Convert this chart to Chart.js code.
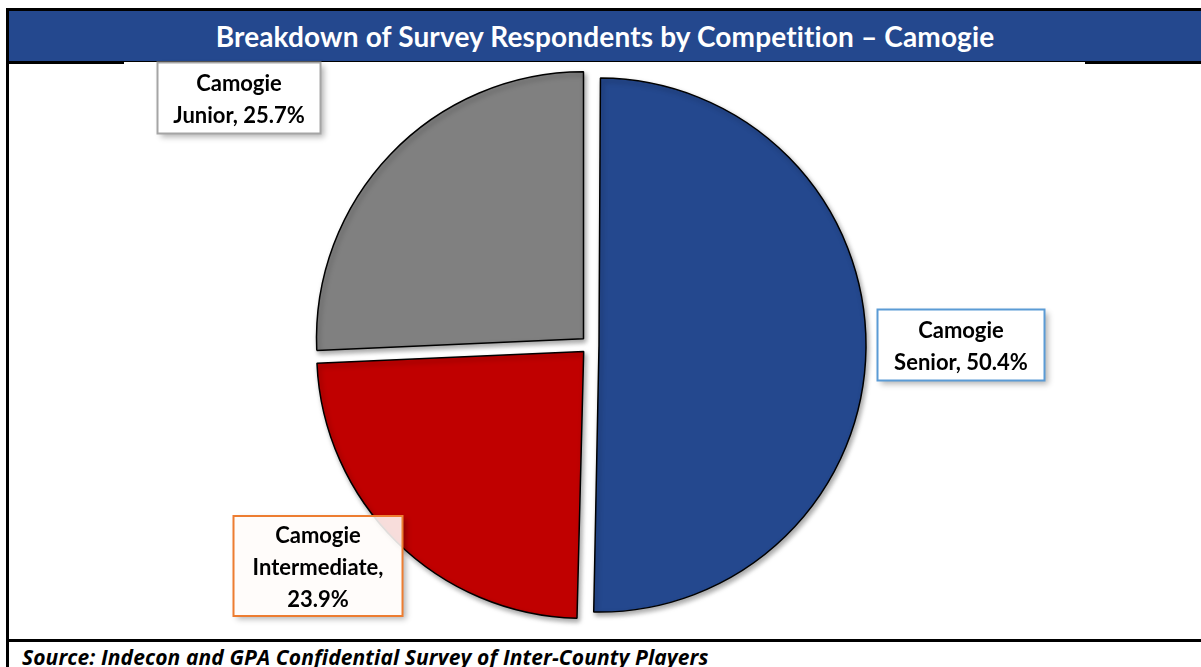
<!DOCTYPE html>
<html>
<head>
<meta charset="utf-8">
<script src="https://cdn.jsdelivr.net/npm/chart.js@4/dist/chart.umd.min.js"></script>
<style>
    html, body { margin: 0; padding: 0; background: #fff; }
    #page { position: relative; width: 1201px; height: 667px; overflow: hidden; font-family: Lato, "Open Sans", sans-serif; }
    #frame { position: absolute; left: 6px; top: 8px; width: 1210px; height: 700px; border-left: 3px solid #000; border-top: 3px solid #000; }
    #titleBar { position: absolute; left: 9px; top: 11px; width: 1200px; height: 50px; background: #24488e; color: #fff;
        font-weight: bold; font-size: 28px; letter-spacing: 0.15px; line-height: 50px; text-align: center; }
    #titleBar span { position: relative; left: -4px; }
    #titleRule { position: absolute; left: 9px; top: 61px; width: 1200px; height: 1px; background: #000; }
    .ruleBit { position: absolute; top: 61px; height: 3px; background: #000; }
    #bottomRule { position: absolute; left: 9px; top: 639px; width: 1200px; height: 3px; background: #000; }
    #source { position: absolute; left: 22px; top: 643px; font-family: "Open Sans", Lato, sans-serif; font-size: 21px; letter-spacing: 0.1px; font-weight: bold; font-style: italic; color: #000; }
    #chartBox { position: absolute; left: 0; top: 0; width: 1201px; height: 667px; }
</style>
</head>
<body>
<div id="page">
    <div id="frame"></div>
    <div id="titleBar"><span>Breakdown of Survey Respondents by Competition – Camogie</span></div>
    <div id="titleRule"></div>
    <div class="ruleBit" style="left:9px;width:115px"></div>
    <div class="ruleBit" style="left:1085px;width:120px"></div>
    <div id="bottomRule"></div>
    <div id="source">Source: Indecon and GPA Confidential Survey of Inter-County Players</div>
    <div id="chartBox"><canvas id="competitionChart"></canvas></div>
</div>
<script>
var categories = ['Camogie Senior', 'Camogie Intermediate', 'Camogie Junior'];
var shares = [50.4, 23.9, 25.7];
var sliceColours = ['#24488e', '#c00000', '#808080'];

var explode = 36;   // Chart.js moves each arc by offset / 4

// callout boxes, placed relative to the pie centre
var callouts = [
    { dx: 371, dy: 0, w: 167, h: 71, border: '#5b9bd5', fill: '#ffffff' },
    { dx: -272, dy: 221, w: 169, h: 100, border: '#ed7d31', fill: 'rgba(255,252,249,0.88)' },
    { dx: -351, dy: -247, w: 163, h: 71, border: '#a5a5a5', fill: '#ffffff' }
];

function wrapText(ctx, text, maxWidth) {
    var words = text.split(' ');
    var lines = [];
    var line = '';
    words.forEach(function (word) {
        var test = line ? line + ' ' + word : word;
        if (line && ctx.measureText(test).width > maxWidth) {
            lines.push(line);
            line = word;
        } else {
            line = test;
        }
    });
    if (line) lines.push(line);
    return lines;
}

// the arc element grows slices wider than 180deg by their offset; keep all radii equal
var equalRadius = {
    id: 'equalRadius',
    afterDatasetUpdate: function (chart) {
        chart.getDatasetMeta(0).data.forEach(function (arc) {
            var fix = 1 - Math.sin(Math.min(Math.PI, arc.circumference));
            arc.outerRadius -= (explode / 4) * fix;
        });
    }
};

var sliceShadow = {
    id: 'sliceShadow',
    beforeDatasetsDraw: function (chart) {
        var ctx = chart.ctx;
        ctx.save();
        ctx.shadowColor = 'rgba(0,0,0,0.35)';
        ctx.shadowBlur = 5;
        ctx.shadowOffsetX = 2;
        ctx.shadowOffsetY = 3;
    },
    afterDatasetsDraw: function (chart) {
        chart.ctx.restore();
    }
};

var calloutLabels = {
    id: 'calloutLabels',
    afterDraw: function (chart) {
        var ctx = chart.ctx;
        var arcs = chart.getDatasetMeta(0).data;
        var cx = arcs[0].x;
        var cy = arcs[0].y;
        ctx.save();
        ctx.font = 'bold 22px Lato, "Open Sans", sans-serif';
        arcs.forEach(function (arc, i) {
            var c = callouts[i];
            var x = cx + c.dx - c.w / 2;
            var y = cy + c.dy - c.h / 2;

            // drop shadow only outside the box so the fill stays clean
            ctx.save();
            ctx.beginPath();
            ctx.rect(0, 0, chart.width, chart.height);
            ctx.rect(x, y, c.w, c.h);
            ctx.clip('evenodd');
            ctx.shadowColor = 'rgba(0,0,0,0.3)';
            ctx.shadowBlur = 6;
            ctx.shadowOffsetX = 3;
            ctx.shadowOffsetY = 3;
            ctx.fillStyle = '#fff';
            ctx.fillRect(x, y, c.w, c.h);
            ctx.restore();

            ctx.fillStyle = c.fill;
            ctx.fillRect(x, y, c.w, c.h);
            ctx.lineWidth = 2;
            ctx.strokeStyle = c.border;
            ctx.strokeRect(x, y, c.w, c.h);

            var text = categories[i] + ', ' + shares[i].toFixed(1) + '%';
            var lines = wrapText(ctx, text, c.w - 14);
            var lineHeight = 32;
            var top = cy + c.dy + 2 - (lines.length - 1) * lineHeight / 2;
            ctx.fillStyle = '#000';
            ctx.textAlign = 'center';
            ctx.textBaseline = 'middle';
            lines.forEach(function (l, k) {
                ctx.fillText(l, cx + c.dx, top + k * lineHeight);
            });
        });
        ctx.restore();
    }
};

var chartElement = document.getElementById('competitionChart').getContext('2d');
var chartObject = new Chart(chartElement, {
    type: 'pie',
    data: {
        labels: categories,
        datasets: [{
            data: shares,
            backgroundColor: sliceColours,
            borderColor: '#000',
            borderWidth: 1.5,
            offset: explode,
            hoverOffset: 0
        }]
    },
    options: {
        responsive: true,
        maintainAspectRatio: false,
        animation: false,
        radius: 267,
        layout: {
            padding: { left: 0, right: 21, top: 63, bottom: 40 }
        },
        plugins: {
            legend: { display: false },
            tooltip: { enabled: false }
        }
    },
    plugins: [equalRadius, sliceShadow, calloutLabels]
});
</script>
</body>
</html>
